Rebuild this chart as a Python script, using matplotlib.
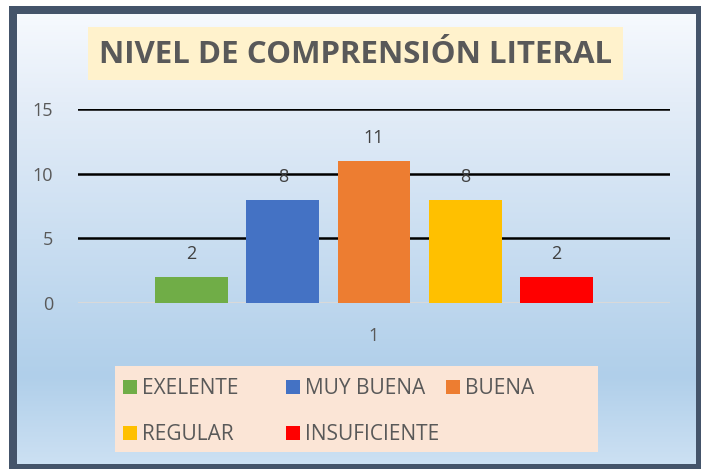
import matplotlib
matplotlib.use("Agg")
import matplotlib.pyplot as plt
import numpy as np
from matplotlib.colors import to_rgb
from matplotlib.patches import Rectangle

categories = ["1"]
series_names = ["EXELENTE", "MUY BUENA", "BUENA", "REGULAR", "INSUFICIENTE"]
series_values = [2, 8, 11, 8, 2]
series_colors = ["#70AD47", "#4472C4", "#ED7D31", "#FFC000", "#FF0000"]
y_ticks = [0, 5, 10, 15]
title = "NIVEL DE COMPRENSIÓN LITERAL"

W, H = 701, 469
FONT = ["Open Sans", "DejaVu Sans"]
TXT = "#595959"

fig = plt.figure(figsize=(W / 100, H / 100), dpi=100)
fig.patch.set_facecolor("white")

# background overlay in pixel coordinates
bg = fig.add_axes([0, 0, 1, 1], zorder=0)
bg.set_xlim(0, W)
bg.set_ylim(H, 0)
bg.axis("off")

# vertical gradient of the chart area
stops = [0.0, 0.2, 0.8, 1.0]
cols = [to_rgb("#F7FAFE"), to_rgb("#E4EDF8"), to_rgb("#B0CFEA"), to_rgb("#CDE1F3")]
t = np.linspace(0, 1, 256)
grad = np.stack([np.interp(t, stops, [c[k] for c in cols]) for k in range(3)], axis=1)
bg.imshow(grad[:, None, :], extent=(13, 700, 468, 10), aspect="auto", zorder=0)
bg.add_patch(Rectangle((13, 10), 687, 458, fill=False, edgecolor="#44546A",
                       linewidth=8 * 0.72, zorder=2))

# title box
bg.add_patch(Rectangle((88, 27), 535, 53, facecolor="#FFF2CC", edgecolor="none", zorder=1))
bg.text(356, 55, title, ha="center", va="center", fontsize=22.5, fontweight="bold",
        color=TXT, family=FONT, zorder=3)

# legend box (drawn by hand so columns are equally spaced as in the source)
bg.add_patch(Rectangle((115, 366), 483, 86, facecolor="#FBE5D6", edgecolor="none", zorder=1))
legend_pos = [(123, 387), (286, 387), (446, 387), (123, 433), (286, 433)]
for (lx, ly), name, color in zip(legend_pos, series_names, series_colors):
    bg.add_patch(Rectangle((lx, ly - 7), 14, 14, facecolor=color, edgecolor="none", zorder=3))
    bg.text(lx + 19, ly + 1, name, ha="left", va="center", fontsize=15, color=TXT,
            family=FONT, zorder=3)

# main bar chart
ax = fig.add_axes([78 / W, 1 - 303 / H, 592 / W, (303 - 109) / H], zorder=1)
ax.patch.set_alpha(0)
step = 91.3 / 592
width = 72.6 / 592
x = np.arange(len(categories))
for i, (name, val, color) in enumerate(zip(series_names, series_values, series_colors)):
    xs = x + (i - 2) * step
    bars = ax.bar(xs, [val], width=width, color=color, zorder=3, label=name)
    ax.bar_label(bars, padding=10, fontsize=13, color="#404040", family=FONT)

ax.set_xlim(-0.5, 0.5)
ax.set_ylim(0, 15)
ax.set_yticks(y_ticks)
ax.set_xticks(x)
ax.set_xticklabels(categories)
ax.tick_params(axis="y", length=0, labelsize=13, labelcolor=TXT, pad=18)
ax.tick_params(axis="x", length=0, labelsize=13, labelcolor=TXT, pad=17)
for lab in ax.get_xticklabels() + ax.get_yticklabels():
    lab.set_family(FONT)
for s in ax.spines.values():
    s.set_visible(False)
for yv in y_ticks[1:]:
    ax.axhline(yv, color="black", linewidth=1.8, zorder=1)
ax.axhline(0, color="#D9D9D9", linewidth=1.5, zorder=2)

fig.savefig("out.png", dpi=100)
